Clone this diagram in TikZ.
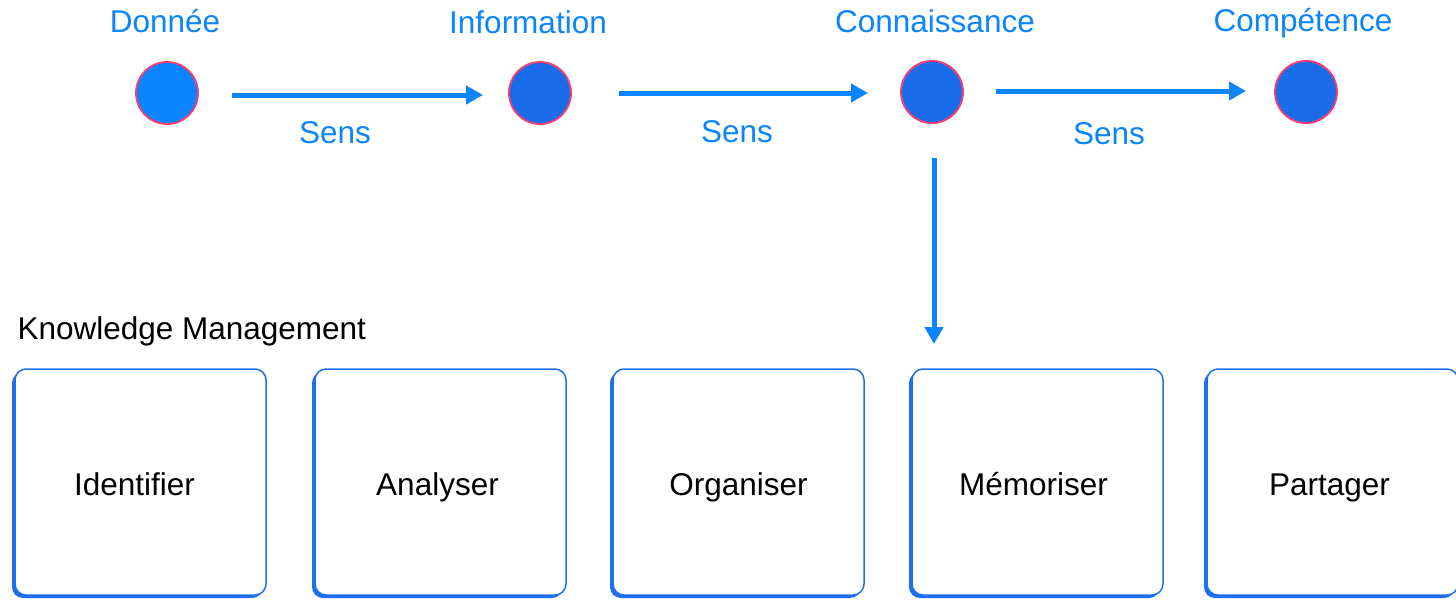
\documentclass[tikz,border=0pt]{standalone}
\usepackage{fontspec}
\setmainfont{Liberation Sans}
\usetikzlibrary{arrows.meta}
\definecolor{lightblue}{RGB}{10,132,255}
\definecolor{darkblue}{RGB}{27,108,235}
\definecolor{rimred}{RGB}{255,59,107}
\definecolor{boxblue}{RGB}{30,110,238}
\tikzset{
    stage/.style={circle, draw=rimred, line width=1.8pt, minimum size=62pt, inner sep=0pt, fill=darkblue},
    stagelabel/.style={text=lightblue, anchor=base, inner sep=0pt, font=\fontsize{31.5}{36}\selectfont},
    flow/.style={draw=lightblue, line width=5pt, -{Triangle[length=17pt,width=18pt]}},
    kmbox/.style={draw=boxblue, line width=1.5pt, rounded corners=11pt, fill=white,
        minimum width=251pt, minimum height=226pt, inner sep=0pt,
        text height=30pt, text depth=3pt,
        font=\fontsize{31.5}{36}\selectfont,
        preaction={fill=boxblue, transform canvas={shift={(-3pt,-3pt)}}}}
}
\begin{document}
\begin{tikzpicture}[x=1pt, y=-1pt]
        \useasboundingbox (0,0) rectangle (1456,600);
        % Define nodes
        \node[stage, fill=lightblue] (donnee) at (167, 93) {};
        \node[stage]                 (info)   at (540, 93) {};
        \node[stage]                 (conn)   at (932, 92) {};
        \node[stage]                 (comp)   at (1306, 92) {};

        \node[stagelabel] (ldonnee) at (165, 32) {Donnée};
        \node[stagelabel] (linfo)   at (528, 33) {Information};
        \node[stagelabel] (lconn)   at (935, 32) {Connaissance};
        \node[stagelabel] (lcomp)   at (1303, 31) {Compétence};

        \coordinate (s1) at (232, 95);  \coordinate (e1) at (483, 95);
        \coordinate (s2) at (619, 93);  \coordinate (e2) at (868, 93);
        \coordinate (s3) at (996, 91);  \coordinate (e3) at (1246, 91);
        \coordinate (s4) at (934, 158); \coordinate (e4) at (934, 344);

        \node[stagelabel] (sens1) at (335, 143) {Sens};
        \node[stagelabel] (sens2) at (737, 142) {Sens};
        \node[stagelabel] (sens3) at (1109, 144) {Sens};

        \node[anchor=west, font=\fontsize{31.5}{36}\selectfont] (km) at (14, 331) {Knowledge Management};

        \node[kmbox] (identifier) at (140.5, 482) {Identifier\kern12pt};
        \node[kmbox] (analyser)   at (440.5, 482) {Analyser\kern6pt};
        \node[kmbox] (organiser)  at (738.5, 482) {Organiser};
        \node[kmbox] (memoriser)  at (1037.5, 482) {Mémoriser\kern8pt};
        \node[kmbox] (partager)   at (1332.5, 482) {Partager\kern6pt};

        % Draw edges
        \draw[flow] (s1) -- (e1);
        \draw[flow] (s2) -- (e2);
        \draw[flow] (s3) -- (e3);
        \draw[flow] (s4) -- (e4);
    \end{tikzpicture}
\end{document}
